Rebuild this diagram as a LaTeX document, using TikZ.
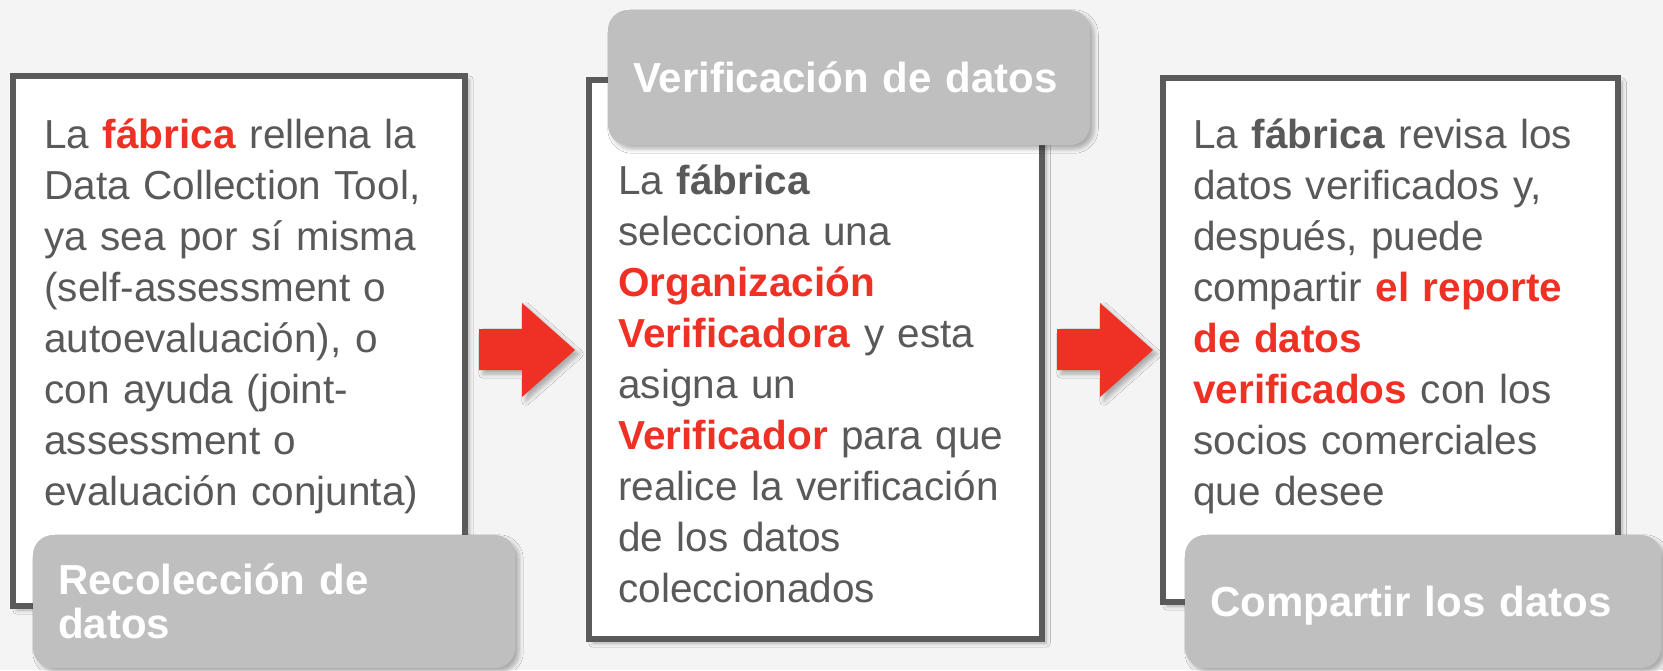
\documentclass[tikz,border=0pt]{standalone}
\usepackage{fontspec}
\setmainfont{Liberation Sans}
\usetikzlibrary{positioning,shadows.blur}
\definecolor{bggray}{HTML}{F4F4F4}
\definecolor{frameline}{HTML}{5A5A5A}
\definecolor{txtgray}{HTML}{595959}
\definecolor{tagfill}{HTML}{BFBFBF}
\definecolor{hired}{HTML}{EE3124}
\newcommand{\hl}[1]{\textcolor{hired}{\textbf{#1}}}
\tikzset{
    stepframe/.style={draw=frameline, line width=3pt, fill=white, inner sep=0pt,
      blur shadow={shadow xshift=2pt, shadow yshift=-2pt, shadow blur steps=6, shadow opacity=30}},
    steptag/.style={fill=tagfill, rounded corners=10pt, inner xsep=12.5pt, inner ysep=0pt,
      text=white, align=left, minimum height=66.5pt,
      font=\fontsize{21pt}{22pt}\selectfont\bfseries,
      blur shadow={shadow xshift=2pt, shadow yshift=-2pt, shadow blur steps=6, shadow opacity=30}},
    steptext/.style={anchor=base west, inner sep=0pt, align=left, text=txtgray,
      font=\fontsize{20.25pt}{25.5pt}\selectfont},
    bigarrow/.style={fill=hired,
      blur shadow={shadow xshift=2pt, shadow yshift=-2pt, shadow blur steps=6, shadow opacity=30}},
}
\begin{document}
\begin{tikzpicture}[x=0.5pt, y=-0.5pt]
  \path[use as bounding box] (0,0) rectangle (1663,670);
  \fill[bggray] (0,0) rectangle (1663,670);

  % the three frames
  \node[stepframe, minimum width=226pt, minimum height=265pt] (recol) at (239,341) {};
  \node[stepframe, minimum width=226.5pt, minimum height=279.5pt] (verif) at (815.5,359.5) {};
  \node[stepframe, minimum width=227.5pt, minimum height=262pt] (compart) at (1390.5,340) {};

  % arrows between the frames
  \foreach \dx in {0,578}{
    \fill[bigarrow, shift={(\dx,0)}] (479,329) -- (522,329) -- (522,303) -- (575,350)
      -- (522,397) -- (522,370) -- (479,370) -- cycle;
  }

  % tags
  \node[steptag, text width=216pt] (recoltag) at (274,601.5) {Recolección de\\datos};
  \node[steptag, text width=216pt, minimum height=67.5pt, text depth=0pt] (veriftag) at (849,77.5) {\mbox{Verificación de datos}};
  \node[steptag, text width=213pt, text depth=0pt] (comparttag) at (1423,601.5) {Compartir los datos};

  % texts
  \node[steptext, text width=215pt] (recoltxt) at (44,148) {La \hl{fábrica} rellena la\\
    Data Collection Tool,\\ ya sea por sí misma\\ (self-assessment o\\ autoevaluación), o\\
    con ayuda (joint-\\ assessment o\\ evaluación conjunta)};
  \node[steptext, text width=210pt] (veriftxt) at (618,194) {La \textbf{fábrica}\\
    selecciona una\\ \hl{Organización}\\ \hl{Verificadora} y esta\\ asigna un\\
    \hl{Verificador} para que\\ realice la verificación\\ de los datos\\ coleccionados};
  \node[steptext, text width=210pt] (comparttxt) at (1193,148) {La \textbf{fábrica} revisa los\\
    datos verificados y,\\ después, puede\\ compartir \hl{el reporte}\\ \hl{de datos}\\
    \hl{verificados} con los\\ socios comerciales\\ que desee};
\end{tikzpicture}
\end{document}
